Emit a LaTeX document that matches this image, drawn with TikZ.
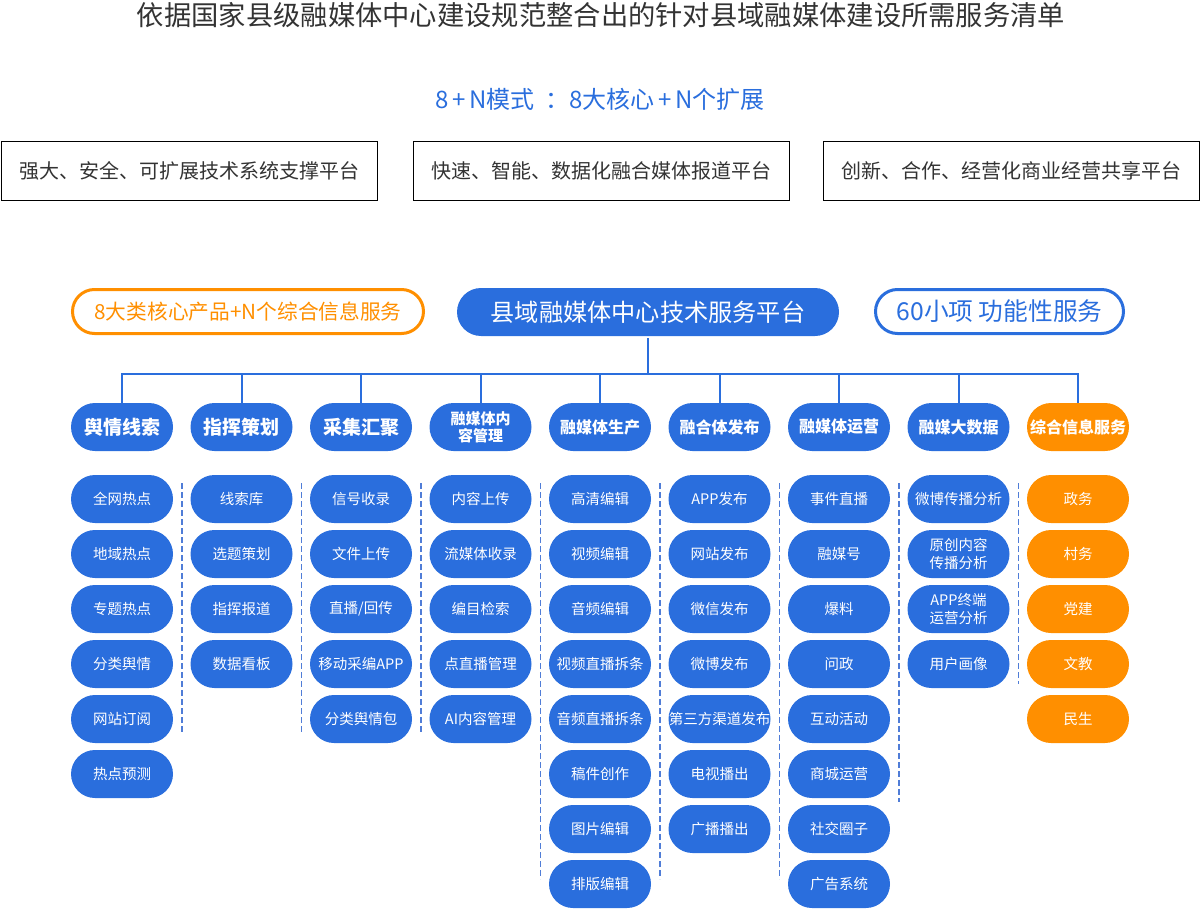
\documentclass[tikz,border=0pt]{standalone}
\usepackage{fontspec}
\setmainfont{Noto Sans CJK SC}
\definecolor{mblue}{RGB}{42,110,221}
\definecolor{morange}{RGB}{255,143,0}
\definecolor{sepblue}{RGB}{80,125,215}
\definecolor{textgray}{RGB}{51,51,51}

\begin{document}
\begin{tikzpicture}[x=1pt, y=-1pt,
    every node/.style={inner sep=0pt, align=center},
    planbox/.style={draw=black, line width=1pt, minimum width=376pt, minimum height=59pt,
      text=textgray, font=\fontsize{20}{22}\selectfont},
    toppill/.style={rounded corners=22pt, minimum height=44pt, line width=3pt,
      font=\fontsize{20.7}{24}\selectfont},
    cathead/.style={fill=#1, text=white, rounded corners=24pt, minimum width=102pt,
      minimum height=48pt},
    item/.style={fill=#1, text=white, rounded corners=24pt, minimum width=102pt,
      minimum height=48pt, font=\fontsize{14.5}{18}\selectfont},
    link/.style={draw=mblue, line width=2pt},
    sep/.style={draw=sepblue, line width=1.5pt, dash pattern=on 6pt off 3pt}]
  \useasboundingbox (0,0) rectangle (1201,909);

  \node[text=textgray, font=\fontsize{27.3}{32}\selectfont] (title) at (601,15)
    {依据国家县级融媒体中心建设规范整合出的针对县域融媒体建设所需服务清单};
  \node[text=mblue, font=\fontsize{24}{28}\selectfont] (mode) at (600,99)
    {8\hspace{4pt}+\hspace{4pt}N模式\hspace{10pt}：8大核心\hspace{4pt}+\hspace{4pt}N个扩展};

  \node[planbox] (tech) at (189.25,171) {强大、安全、可扩展技术系统支撑平台};
  \node[planbox] (news) at (601,171) {快速、智能、数据化融合媒体报道平台};
  \node[planbox] (biz) at (1011.5,171) {创新、合作、经营化商业经营共享平台};

  \node[toppill, draw=morange, text=morange, minimum width=351pt] (core) at (248,311.5)
    {8大类核心产品+N个综合信息服务};
  \node[toppill, fill=mblue, text=white, rounded corners=24pt, minimum width=382pt,
    minimum height=48pt, font=\fontsize{24.2}{28}\selectfont] (platform) at (648,312)
    {县域融媒体中心技术服务平台};
  \node[toppill, draw=mblue, text=mblue, minimum width=248pt,
    font=\fontsize{24.7}{28}\selectfont] (sixty) at (999.5,311.5) {60小项 功能性服务};

  % columns: header, then its items
  \foreach \i/\hue/\hs/\head/\list in {
      1/mblue/19/舆情线索/{全网热点,地域热点,专题热点,分类舆情,网站订阅,热点预测},
      2/mblue/19/指挥策划/{线索库,选题策划,指挥报道,数据看板},
      3/mblue/19/采集汇聚/{信号收录,文件上传,直播/回传,移动采编APP,分类舆情包},
      4/mblue/15/融媒体内\\容管理/{内容上传,流媒体收录,编目检索,点直播管理,AI内容管理},
      5/mblue/16/融媒体生产/{高清编辑,视频编辑,音频编辑,视频直播拆条,音频直播拆条,稿件创作,图片编辑,排版编辑},
      6/mblue/16/融合体发布/{APP发布,网站发布,微信发布,微博发布,第三方渠道发布,电视播出,广播播出},
      7/mblue/16/融媒体运营/{事件直播,融媒号,爆料,问政,互动活动,商城运营,社交圈子,广告系统},
      8/mblue/16/融媒大数据/{微博传播分析,原创内容\\传播分析,APP终端\\运营分析,用户画像},
      9/morange/16/综合信息服务/{政务,村务,党建,文教,民生}}{
    \node[cathead=\hue, font=\fontsize{\hs}{17}\selectfont\bfseries] (cat\i)
      at ({122+119.5*(\i-1)},427) {\head};
    \foreach \t [count=\j] in \list
      \node[item=\hue] (c\i-\j) at ({122+119.5*(\i-1)},{499+55*(\j-1)}) {\t};
    \draw[link] (cat\i.north) -- ++(0,-29) -| (platform.south);
  }

  % dashed separators
  \foreach \x/\e in {181.75/733, 301.25/733, 420.75/733, 540.25/879,
                     659.75/879, 779.25/879, 898.75/802, 1018.25/684}
    \draw[sep] (\x,483) -- (\x,\e);
\end{tikzpicture}
\end{document}
